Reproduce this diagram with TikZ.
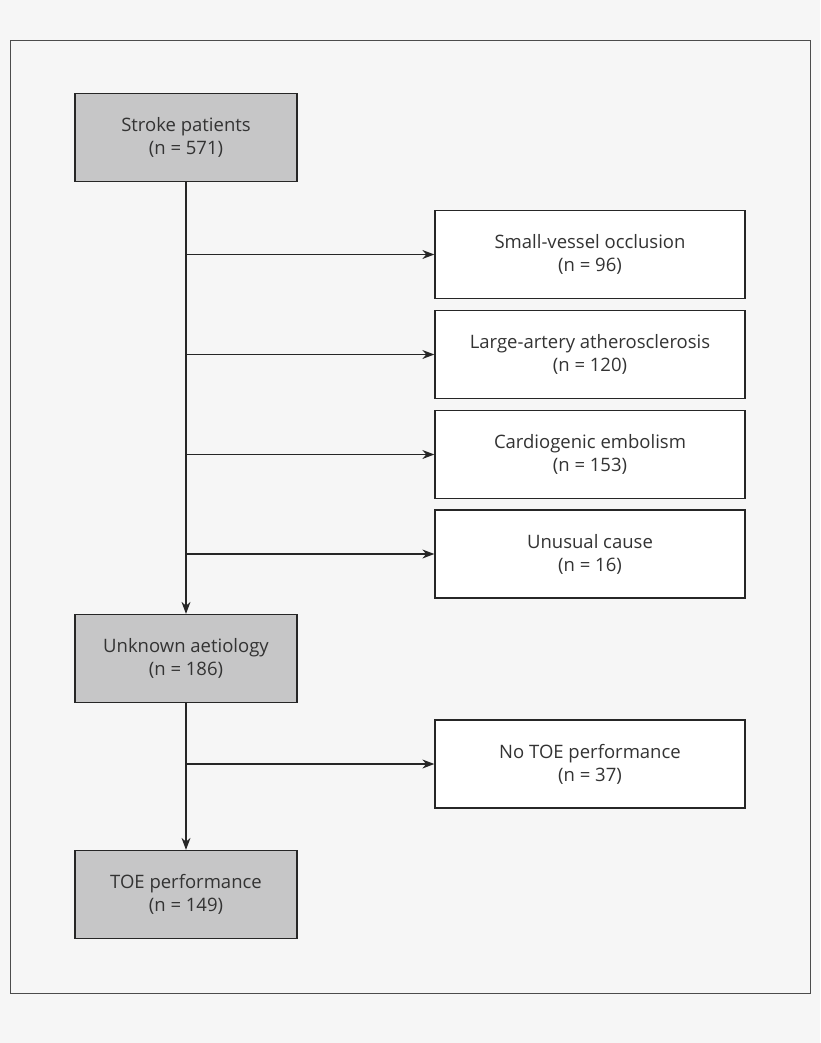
\documentclass[tikz,border=0pt]{standalone}
\usepackage{fontspec}
\setmainfont{Open Sans}
\usetikzlibrary{arrows.meta}
\definecolor{bg}{HTML}{F6F6F6}
\definecolor{gbox}{HTML}{C6C6C7}
\begin{document}
\begin{tikzpicture}[x=1pt,y=-1pt,
 box/.style={draw=black!85,line width=1.3pt,minimum height=88pt,align=center,font=\fontsize{18.5}{23}\selectfont,text=black!80,inner sep=0pt},
 g/.style={box,fill=gbox,minimum width=222pt},
 w/.style={box,fill=white,minimum width=310pt},
 arr/.style={draw=black!85,line width=1.3pt,-{Stealth[length=12pt,width=9pt]}}]
\fill[bg] (0,0) rectangle (820,1043);
\useasboundingbox (0,0) rectangle (820,1043);
\draw[black!70,line width=0.9pt] (10,40) rectangle (810,993);
\node[g] (sp) at (186,137.5) {Stroke patients\\(n = 571)};
\node[g] (ua) at (186,658.5) {Unknown aetiology\\(n = 186)};
\node[g] (toe) at (186,894.5) {TOE performance\\(n = 149)};
\node[w] (sv) at (590,254.5) {Small-vessel occlusion\\(n = 96)};
\node[w] (la) at (590,354.5) {Large-artery atherosclerosis\\(n = 120)};
\node[w] (ce) at (590,454.5) {Cardiogenic embolism\\(n = 153)};
\node[w] (uc) at (590,554) {Unusual cause\\(n = 16)};
\node[w] (nt) at (590,764) {No TOE performance\\(n = 37)};
\draw[arr] (sp) -- (ua);
\draw[arr] (ua) -- (toe);
\foreach \n in {sv,la,ce,uc,nt}{\draw[arr] (sp.south |- \n.west) -- (\n.west);}
\end{tikzpicture}
\end{document}
